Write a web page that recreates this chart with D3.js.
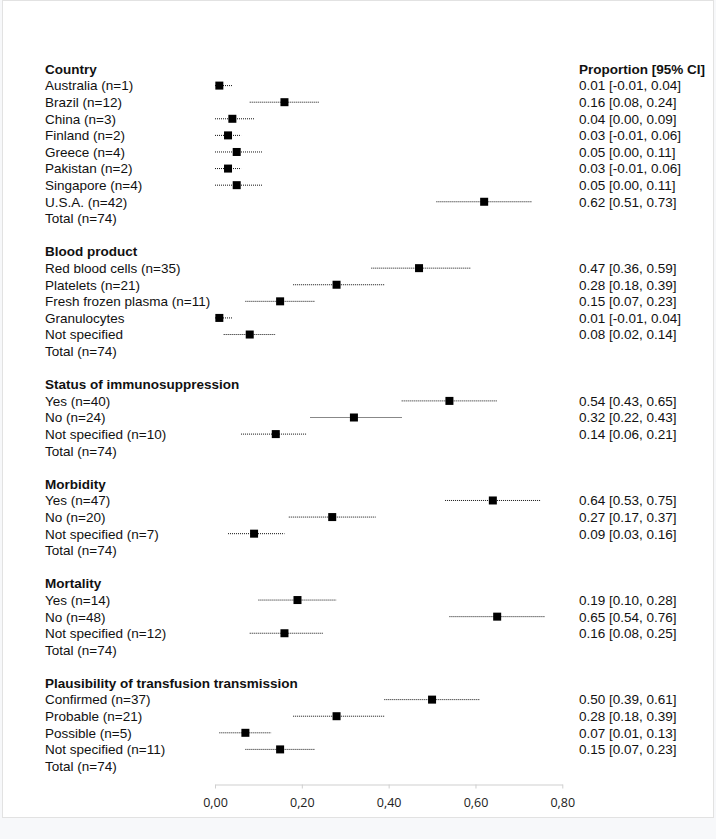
<!DOCTYPE html>
<html>
<head>
<meta charset="utf-8">
<script src="https://cdn.jsdelivr.net/npm/d3@7"></script>
<style>
  body { margin: 0; background: #f7f8fa; }
  text { font-family: "Liberation Sans Narrow", "Liberation Sans", sans-serif; font-size: 13.5px; fill: #111; }
  .head { font-weight: bold; }
</style>
</head>
<body>
<div id="chart"></div>
<script>
// Forest plot data, one entry per group
const groupTitles = ["Country", "Blood product", "Status of immunosuppression",
    "Morbidity", "Mortality", "Plausibility of transfusion transmission"]

const rowLabels = [
    ["Australia (n=1)", "Brazil (n=12)", "China (n=3)", "Finland (n=2)", "Greece (n=4)",
     "Pakistan (n=2)", "Singapore (n=4)", "U.S.A. (n=42)"],
    ["Red blood cells (n=35)", "Platelets (n=21)", "Fresh frozen plasma (n=11)", "Granulocytes", "Not specified"],
    ["Yes (n=40)", "No (n=24)", "Not specified (n=10)"],
    ["Yes (n=47)", "No (n=20)", "Not specified (n=7)"],
    ["Yes (n=14)", "No (n=48)", "Not specified (n=12)"],
    ["Confirmed (n=37)", "Probable (n=21)", "Possible (n=5)", "Not specified (n=11)"]
]

const proportion = [
    [0.01, 0.16, 0.04, 0.03, 0.05, 0.03, 0.05, 0.62],
    [0.47, 0.28, 0.15, 0.01, 0.08],
    [0.54, 0.32, 0.14],
    [0.64, 0.27, 0.09],
    [0.19, 0.65, 0.16],
    [0.50, 0.28, 0.07, 0.15]
]
const ciLow = [
    [-0.01, 0.08, 0.00, -0.01, 0.00, -0.01, 0.00, 0.51],
    [0.36, 0.18, 0.07, -0.01, 0.02],
    [0.43, 0.22, 0.06],
    [0.53, 0.17, 0.03],
    [0.10, 0.54, 0.08],
    [0.39, 0.18, 0.01, 0.07]
]
const ciHigh = [
    [0.04, 0.24, 0.09, 0.06, 0.11, 0.06, 0.11, 0.73],
    [0.59, 0.39, 0.23, 0.04, 0.14],
    [0.65, 0.43, 0.21],
    [0.75, 0.37, 0.16],
    [0.28, 0.76, 0.25],
    [0.61, 0.39, 0.13, 0.23]
]
const totalLabel = "Total (n=74)"
const xTicks = [0, 0.2, 0.4, 0.6, 0.8]

const WIDTH = 716
const HEIGHT = 839

const svg = d3.select("#chart")
    .append("svg")
    .attr("width", WIDTH)
    .attr("height", HEIGHT)

// white panel
svg.append("rect")
    .attr("x", 2.5).attr("y", 0.5)
    .attr("width", 711).attr("height", 817)
    .attr("fill", "white")
    .attr("stroke", "#e2e2e2")

// flatten into rows: header, items, total, blank
const rows = []
groupTitles.forEach((title, g) => {
    rows.push({ type: "head", label: title })
    rowLabels[g].forEach((lab, i) => {
        rows.push({ type: "item", label: lab, est: proportion[g][i], lo: ciLow[g][i], hi: ciHigh[g][i] })
    })
    rows.push({ type: "total", label: totalLabel })
    if (g < groupTitles.length - 1) rows.push({ type: "blank", label: "" })
})

const x = d3.scaleLinear().domain([0, 0.8]).range([215, 562.3]).clamp(true)
const y = d3.scaleLinear().domain([0, rows.length - 1]).range([69, 766])

// plain hyphen for negatives, like the original table
const fmt = d3.formatLocale({ decimal: ".", thousands: ",", grouping: [3], currency: ["", ""], minus: "-" }).format(".2f")

// left labels
svg.append("g")
    .selectAll("text")
    .data(rows.filter(d => d.type !== "blank"))
    .enter()
    .append("text")
    .attr("class", d => d.type === "head" ? "head" : null)
    .attr("x", 45)
    .attr("y", d => y(rows.indexOf(d)))
    .attr("dy", "0.36em")
    .text(d => d.label)

// right column header
svg.append("text")
    .attr("class", "head")
    .attr("x", 579)
    .attr("y", y(0))
    .attr("dy", "0.36em")
    .text("Proportion [95% CI]")

const items = rows.filter(d => d.type === "item")

svg.append("g")
    .selectAll("text")
    .data(items)
    .enter()
    .append("text")
    .attr("x", 579)
    .attr("y", d => y(rows.indexOf(d)))
    .attr("dy", "0.36em")
    .text(d => `${fmt(d.est)} [${fmt(d.lo)}, ${fmt(d.hi)}]`)

// confidence intervals
svg.append("g")
    .selectAll("line")
    .data(items)
    .enter()
    .append("line")
    .attr("x1", d => x(d.lo))
    .attr("x2", d => x(d.hi))
    .attr("y1", d => y(rows.indexOf(d)))
    .attr("y2", d => y(rows.indexOf(d)))
    .attr("stroke", "#111")
    .attr("stroke-width", 1)
    .attr("stroke-dasharray", "1,1")

// point estimates
const sq = 8
svg.append("g")
    .selectAll("rect")
    .data(items)
    .enter()
    .append("rect")
    .attr("x", d => x(d.est) - sq / 2)
    .attr("y", d => y(rows.indexOf(d)) - sq / 2)
    .attr("width", sq)
    .attr("height", sq)
    .attr("fill", "black")

// x axis
const axis = svg.append("g")
    .attr("transform", "translate(0,784.5)")
    .call(d3.axisBottom(x).tickValues(xTicks).tickSize(4).tickSizeOuter(0)
        .tickFormat(d => fmt(d).replace(".", ",")))
axis.select(".domain").attr("stroke", "#cfcfcf")
axis.selectAll(".tick line").attr("stroke", "#cfcfcf")
axis.selectAll(".tick text")
    .attr("dy", "0")
    .attr("y", 22)
    .style("font-family", "'Open Sans', sans-serif")
    .style("font-size", "12.5px")
    .style("fill", "#222")
</script>
</body>
</html>
